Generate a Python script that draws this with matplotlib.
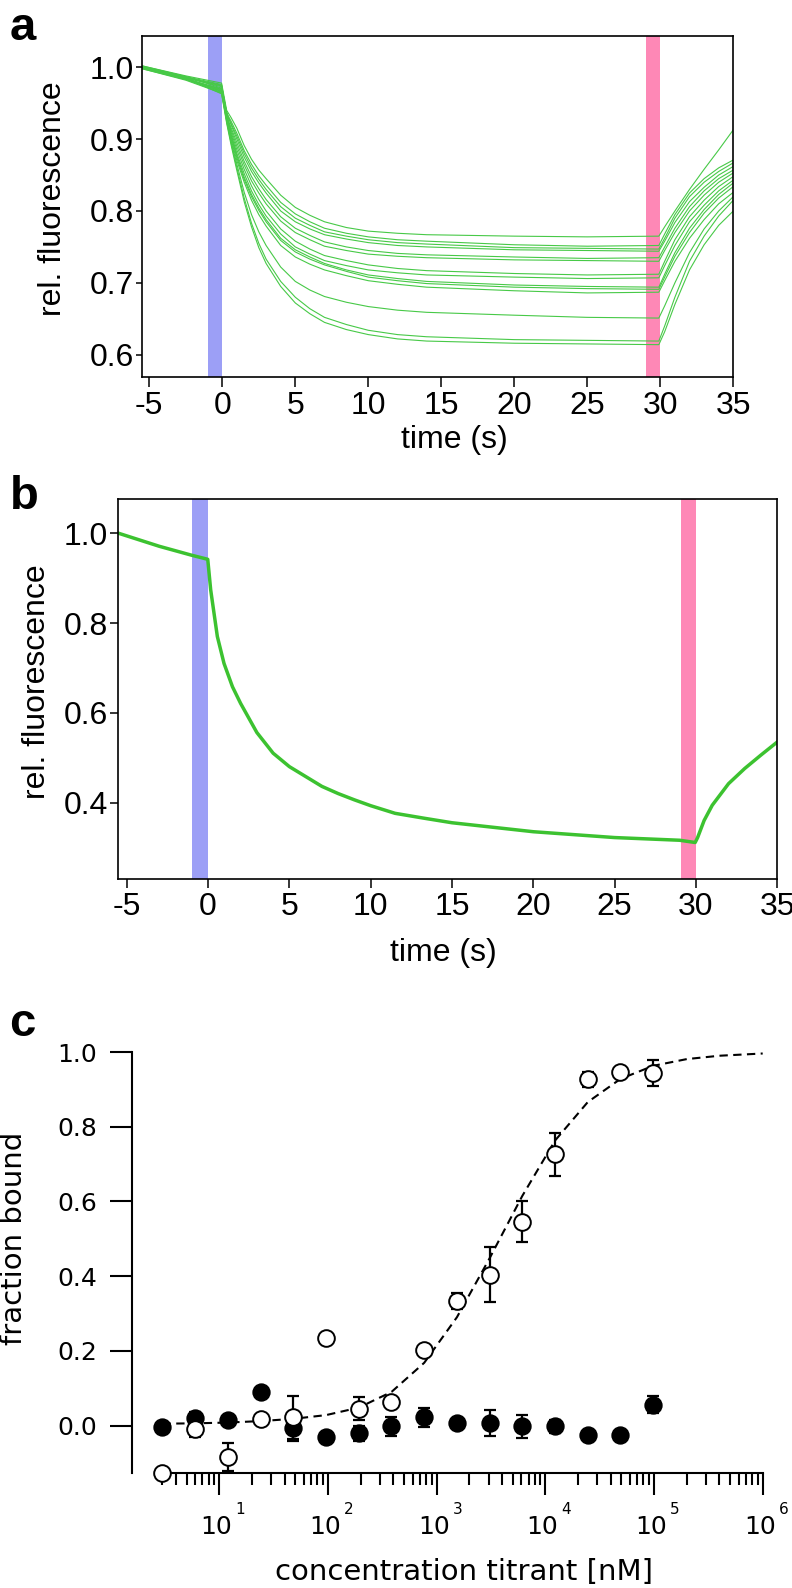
import matplotlib
matplotlib.use("Agg")
import matplotlib.pyplot as plt
import matplotlib.transforms as mtransforms
from matplotlib.ticker import FixedLocator, NullFormatter, LogLocator

plt.rcParams['axes.unicode_minus'] = False

# ---- panel a: 14 stopped-flow traces ----
time_a = [-5.5, -2.5, -0.05, 0.3, 0.6, 1, 1.5, 2, 2.5, 3, 4, 5, 6, 7, 8.5,
          10, 12, 14, 20, 25, 29.9, 30.3, 31, 32, 33, 34, 35]
pre_a = [  # values at -5.5, -2.5, -0.05 s and 0.3 s
    [1.002, 0.988, 0.978, 0.940], [1.000, 0.986, 0.975, 0.936],
    [0.999, 0.985, 0.973, 0.934], [1.001, 0.987, 0.971, 0.938],
    [1.000, 0.984, 0.969, 0.932], [0.998, 0.983, 0.967, 0.930],
    [1.001, 0.986, 0.974, 0.935], [0.999, 0.984, 0.970, 0.931],
    [1.000, 0.985, 0.966, 0.929], [0.998, 0.982, 0.964, 0.927],
    [1.002, 0.987, 0.976, 0.933], [1.000, 0.984, 0.968, 0.926],
    [0.999, 0.983, 0.965, 0.924], [1.001, 0.985, 0.963, 0.922],
]
decay_a = [  # values at 0.6 ... 29.9 s
    [0.930, 0.915, 0.891, 0.872, 0.857, 0.845, 0.822, 0.805, 0.794, 0.785,
     0.777, 0.772, 0.769, 0.767, 0.765, 0.764, 0.765],
    [0.925, 0.908, 0.884, 0.865, 0.849, 0.836, 0.812, 0.796, 0.785, 0.776,
     0.769, 0.764, 0.760, 0.758, 0.753, 0.751, 0.752],
    [0.922, 0.904, 0.880, 0.860, 0.844, 0.830, 0.806, 0.790, 0.780, 0.771,
     0.765, 0.760, 0.756, 0.754, 0.749, 0.748, 0.747],
    [0.920, 0.900, 0.875, 0.855, 0.839, 0.825, 0.800, 0.785, 0.775, 0.767,
     0.761, 0.756, 0.752, 0.750, 0.746, 0.745, 0.744],
    [0.916, 0.895, 0.869, 0.848, 0.831, 0.816, 0.792, 0.776, 0.766, 0.757,
     0.750, 0.745, 0.741, 0.739, 0.736, 0.734, 0.735],
    [0.913, 0.890, 0.864, 0.842, 0.825, 0.810, 0.786, 0.770, 0.760, 0.751,
     0.745, 0.740, 0.737, 0.735, 0.732, 0.731, 0.730],
    [0.910, 0.885, 0.858, 0.835, 0.816, 0.800, 0.775, 0.758, 0.747, 0.738,
     0.731, 0.725, 0.720, 0.717, 0.713, 0.711, 0.712],
    [0.907, 0.880, 0.852, 0.828, 0.809, 0.793, 0.768, 0.750, 0.740, 0.731,
     0.724, 0.718, 0.714, 0.711, 0.708, 0.706, 0.707],
    [0.905, 0.877, 0.847, 0.823, 0.804, 0.788, 0.762, 0.746, 0.736, 0.727,
     0.718, 0.711, 0.706, 0.702, 0.697, 0.695, 0.694],
    [0.903, 0.874, 0.844, 0.820, 0.801, 0.785, 0.759, 0.743, 0.733, 0.725,
     0.716, 0.708, 0.703, 0.699, 0.694, 0.692, 0.691],
    [0.900, 0.870, 0.840, 0.815, 0.795, 0.779, 0.752, 0.736, 0.726, 0.718,
     0.710, 0.703, 0.698, 0.694, 0.689, 0.686, 0.687],
    [0.897, 0.865, 0.826, 0.795, 0.771, 0.752, 0.722, 0.702, 0.690, 0.681,
     0.673, 0.667, 0.662, 0.659, 0.655, 0.652, 0.651],
    [0.895, 0.860, 0.818, 0.783, 0.755, 0.733, 0.702, 0.680, 0.664, 0.652,
     0.642, 0.634, 0.628, 0.625, 0.621, 0.620, 0.619],
    [0.892, 0.856, 0.813, 0.778, 0.749, 0.727, 0.695, 0.672, 0.657, 0.645,
     0.635, 0.628, 0.622, 0.619, 0.616, 0.615, 0.614],
]
recovery_a = [  # values at 30.3, 31, 32, 33, 34, 35 s
    [0.778, 0.800, 0.830, 0.858, 0.885, 0.913],
    [0.768, 0.795, 0.825, 0.845, 0.860, 0.871],
    [0.762, 0.790, 0.820, 0.840, 0.855, 0.867],
    [0.758, 0.784, 0.813, 0.833, 0.850, 0.862],
    [0.750, 0.776, 0.806, 0.828, 0.845, 0.857],
    [0.745, 0.770, 0.800, 0.822, 0.840, 0.853],
    [0.730, 0.760, 0.792, 0.815, 0.834, 0.848],
    [0.724, 0.752, 0.785, 0.808, 0.828, 0.843],
    [0.712, 0.742, 0.776, 0.802, 0.823, 0.839],
    [0.708, 0.737, 0.770, 0.797, 0.818, 0.834],
    [0.703, 0.730, 0.762, 0.788, 0.810, 0.826],
    [0.668, 0.700, 0.742, 0.775, 0.800, 0.820],
    [0.640, 0.680, 0.730, 0.765, 0.793, 0.815],
    [0.632, 0.670, 0.718, 0.753, 0.780, 0.800],
]

# ---- panel b: averaged trace ----
time_b = [-5.5, -3, -1, -0.02, 0.16, 0.57, 0.98, 1.5, 2, 3, 4, 5, 6, 7, 8, 9,
          10, 11.5, 13.3, 15, 20, 25, 29, 29.95, 30.1, 30.5, 31, 32, 33, 34, 35]
fluor_b = [1.0, 0.971, 0.951, 0.942, 0.874, 0.77, 0.71, 0.658, 0.621, 0.556,
           0.51, 0.48, 0.458, 0.436, 0.42, 0.406, 0.393, 0.376, 0.365, 0.355,
           0.335, 0.322, 0.316, 0.311, 0.322, 0.36, 0.394, 0.442, 0.476, 0.506,
           0.535]

# ---- panel c: binding titration ----
conc = [3, 6, 12, 24, 48, 96, 192, 384, 768, 1536, 3072, 6144, 12288, 24576,
        49152, 98304]
open_y = [-0.127, -0.008, -0.085, 0.018, 0.022, 0.234, 0.045, 0.062, 0.203,
          0.334, 0.404, 0.546, 0.726, 0.927, 0.947, 0.943]
open_err = [0, 0.022, 0.037, 0, 0.058, 0, 0.031, 0, 0, 0.022, 0.073, 0.054,
            0.057, 0.02, 0, 0.035]
filled_y = [-0.005, 0.02, 0.016, 0.089, -0.006, -0.031, -0.02, -0.002, 0.022,
            0.007, 0.007, -0.002, -0.002, -0.024, -0.024, 0.056]
filled_err = [0, 0.016, 0, 0, 0.036, 0, 0.02, 0.025, 0.026, 0, 0.034, 0.03,
              0.018, 0, 0, 0.022]
fit_conc = [3, 6, 12, 24, 48, 96, 192, 384, 768, 1536, 3072, 6144, 12288,
            24576, 49152, 98304, 200000, 400000, 1000000]
fit_y = [0.005, 0.006, 0.008, 0.012, 0.018, 0.028, 0.048, 0.09, 0.168, 0.29,
         0.448, 0.615, 0.763, 0.866, 0.928, 0.963, 0.981, 0.99, 0.996]

GREEN_A = '#47c947'
GREEN_B = '#3cc230'
BLUE = '#9c9ff6'
PINK = '#fe88b6'

W, H = 792, 1588
fig = plt.figure(figsize=(W / 100, H / 100), dpi=100)


def fx(px):
    return px / W


def fy(py):
    return 1 - py / H


def style_box(ax, ylen, xlen):
    for s in ax.spines.values():
        s.set_linewidth(1.2)
    ax.tick_params(direction='out', width=1.1, labelsize=23)
    ax.tick_params(axis='y', length=ylen, pad=1.5)
    ax.tick_params(axis='x', length=xlen, pad=3)
    for lab in ax.get_xticklabels() + ax.get_yticklabels():
        lab.set_family(['Liberation Sans', 'DejaVu Sans'])


# panel a
ax_a = fig.add_axes([fx(142), fy(377), fx(733.3 - 142), (377 - 36) / H])
ax_a.axvspan(-1, 0, color=BLUE, lw=0, zorder=1)
ax_a.axvspan(29.05, 30, color=PINK, lw=0, zorder=1)
for pre, dec, rec in zip(pre_a, decay_a, recovery_a):
    ax_a.plot(time_a, pre + dec + rec, color=GREEN_A, lw=0.8, zorder=2)
ax_a.set_xlim(-5.5, 35)
ax_a.set_ylim(0.569, 1.0435)
ax_a.set_xticks(range(-5, 36, 5))
ax_a.set_yticks([0.6, 0.7, 0.8, 0.9, 1.0])
ax_a.set_yticklabels(['0.6', '0.7', '0.8', '0.9', '1.0'])
style_box(ax_a, 4.5, 7)

# panel b
ax_b = fig.add_axes([fx(118.3), fy(879.3), fx(777.3 - 118.3), (879.3 - 499.3) / H])
ax_b.axvspan(-1, 0, color=BLUE, lw=0, zorder=1)
ax_b.axvspan(29.05, 30, color=PINK, lw=0, zorder=1)
ax_b.plot(time_b, fluor_b, color=GREEN_B, lw=2.5, zorder=2,
          solid_joinstyle='round')
ax_b.set_xlim(-5.52, 35)
ax_b.set_ylim(0.229, 1.0757)
ax_b.set_xticks(range(-5, 36, 5))
ax_b.set_yticks([0.4, 0.6, 0.8, 1.0])
ax_b.set_yticklabels(['0.4', '0.6', '0.8', '1.0'])
style_box(ax_b, 6, 6.5)

lab_font = ['Liberation Sans', 'DejaVu Sans']
fig.text(fx(454), fy(440), 'time (s)', ha='center', va='center', fontsize=23,
         family=lab_font)
fig.text(fx(53), fy(199), 'rel. fluorescence', ha='center', va='center',
         rotation=90, fontsize=23, family=lab_font)
fig.text(fx(443), fy(953), 'time (s)', ha='center', va='center', fontsize=23,
         family=lab_font)
fig.text(fx(37), fy(682), 'rel. fluorescence', ha='center', va='center',
         rotation=90, fontsize=23, family=lab_font)
for letter, (px, py) in zip('abc', [(23, 28), (24, 497), (22, 1024)]):
    fig.text(fx(px), fy(py), letter, ha='center', va='center', fontsize=34,
             fontweight='bold', family=lab_font)

# panel c
c_font = ['DejaVu Sans']
ax_c = fig.add_axes([fx(155), fy(1473), fx(762.7 - 155), (1473 - 1052) / H])
ax_c.set_xscale('log')
ax_c.set_xlim(2.56, 1e6)
ax_c.set_ylim(-0.127, 1.0)
ax_c.plot(fit_conc, fit_y, color='black', lw=1.5, ls=(0, (4, 2.6)), zorder=2)

f_bar = [i for i, e in enumerate(filled_err) if e > 0]
ax_c.errorbar([conc[i] for i in f_bar], [filled_y[i] for i in f_bar],
              yerr=[filled_err[i] for i in f_bar], fmt='none', ecolor='black',
              elinewidth=1.6, capsize=4.3, capthick=1.6, zorder=3, clip_on=False)
ax_c.plot(conc, filled_y, 'o', ms=12, mfc='black', mec='black', mew=1.2,
          zorder=4, clip_on=False)
o_bar = [i for i, e in enumerate(open_err) if e > 0]
ax_c.errorbar([conc[i] for i in o_bar], [open_y[i] for i in o_bar],
              yerr=[open_err[i] for i in o_bar], fmt='none', ecolor='black',
              elinewidth=1.6, capsize=4.3, capthick=1.6, zorder=5, clip_on=False)
ax_c.plot(conc, open_y, 'o', ms=12, mfc='white', mec='black', mew=1.4,
          zorder=6, clip_on=False)

for side in ('top', 'right'):
    ax_c.spines[side].set_visible(False)
ax_c.spines['left'].set_position(('outward', 16.8))
ax_c.spines['left'].set_bounds(-0.127, 1.0)
ax_c.spines['left'].set_linewidth(1.5)
ax_c.spines['bottom'].set_linewidth(1.5)
ax_c.set_yticks([0, 0.2, 0.4, 0.6, 0.8, 1.0])
ax_c.set_yticklabels(['0.0', '0.2', '0.4', '0.6', '0.8', '1.0'])
ax_c.tick_params(axis='y', direction='out', length=15.8, width=1.5, pad=9,
                 labelsize=18)
decades = [10, 100, 1000, 10000, 100000, 1000000]
ax_c.xaxis.set_major_locator(FixedLocator(decades))
ax_c.xaxis.set_minor_locator(LogLocator(base=10, subs=range(2, 10), numticks=20))
ax_c.xaxis.set_major_formatter(NullFormatter())
ax_c.xaxis.set_minor_formatter(NullFormatter())
ax_c.tick_params(axis='x', which='major', direction='out', length=16, width=1.5)
ax_c.tick_params(axis='x', which='minor', direction='out', length=8.5, width=1.5)
for lab in ax_c.get_yticklabels():
    lab.set_family(c_font)

trans = ax_c.get_xaxis_transform()
base_tr = mtransforms.offset_copy(trans, fig=fig, x=-3, y=-54, units='dots')
exp_tr = mtransforms.offset_copy(trans, fig=fig, x=21, y=-37, units='dots')
for k, d in enumerate(decades, start=1):
    ax_c.text(d, 0, '10', transform=base_tr, ha='center', va='center',
              fontsize=18, family=c_font)
    ax_c.text(d, 0, str(k), transform=exp_tr, ha='center', va='center',
              fontsize=11, family=c_font)

fig.text(fx(464), fy(1572), 'concentration titrant [nM]', ha='center',
         va='center', fontsize=21, family=c_font)
fig.text(fx(14), fy(1238), 'fraction bound', ha='center', va='center',
         rotation=90, fontsize=21, family=c_font)

fig.savefig('out.png', dpi=100)
